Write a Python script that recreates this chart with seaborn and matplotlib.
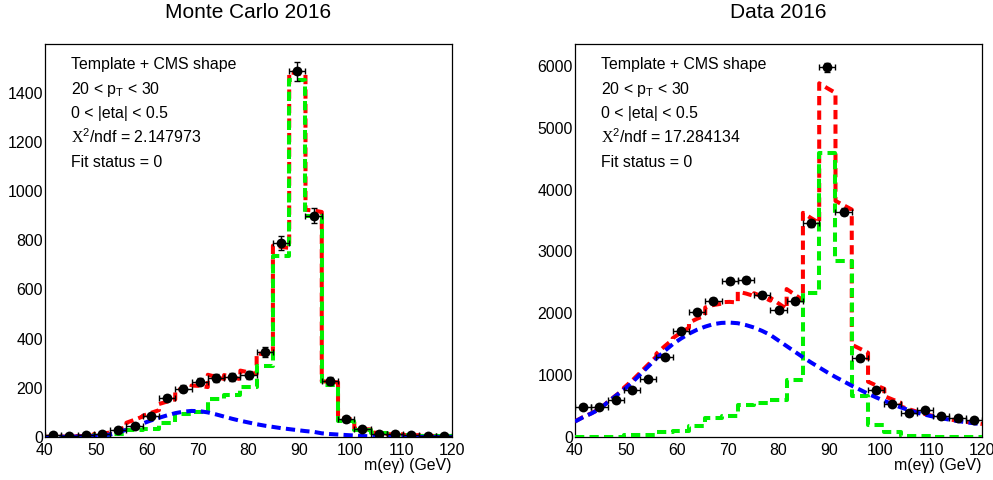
import matplotlib
matplotlib.use("Agg")
import numpy as np
import pandas as pd
import matplotlib.pyplot as plt
import seaborn as sns
from matplotlib.ticker import MultipleLocator

# ---------------- data ----------------
bin_edges = [40.0, 43.2, 46.4, 49.6, 52.8, 56.0, 59.2, 62.4, 65.6, 68.8, 72.0, 75.2, 78.4,
             81.6, 84.8, 88.0, 91.2, 94.4, 97.6, 100.8, 104.0, 107.2, 110.4, 113.6, 116.8, 120.0]
bin_centers = [41.6, 44.8, 48.0, 51.2, 54.4, 57.6, 60.8, 64.0, 67.2, 70.4, 73.6, 76.8, 80.0,
               83.2, 86.4, 89.6, 92.8, 96.0, 99.2, 102.4, 105.6, 108.8, 112.0, 115.2, 118.4]
# sampling points of the smooth background curve (bin edges and centres)
curve_x = [40.0, 41.6, 43.2, 44.8, 46.4, 48.0, 49.6, 51.2, 52.8, 54.4, 56.0, 57.6, 59.2,
           60.8, 62.4, 64.0, 65.6, 67.2, 68.8, 70.4, 72.0, 73.6, 75.2, 76.8, 78.4, 80.0,
           81.6, 83.2, 84.8, 86.4, 88.0, 89.6, 91.2, 92.8, 94.4, 96.0, 97.6, 99.2, 100.8,
           102.4, 104.0, 105.6, 107.2, 108.8, 110.4, 112.0, 113.6, 115.2, 116.8, 118.4, 120.0]

# Monte Carlo 2016
mc_points = [8, 4, 9, 13, 28, 45, 85, 158, 196, 225, 240, 245, 252,
             345, 788, 1487, 900, 228, 72, 31, 14, 12, 9, 6, 5]
mc_errors = [3, 2, 3, 4, 6, 8, 10, 13, 14, 15, 16, 16, 16,
             19, 28, 39, 30, 15, 9, 6, 4, 4, 3, 3, 3]
mc_template = [1, 1, 2, 8, 11, 28, 31, 56, 93, 103, 153, 169, 204,
               289, 737, 1451, 900, 212, 66, 28, 15, 10, 7, 4, 4]
mc_cms = [0, 0.3, 0.6, 1, 1.5, 2.5, 4, 6, 10, 18, 30, 42, 55, 67, 78, 88, 97, 103, 106,
          105, 100, 92, 83, 74, 66, 59, 52, 46, 41, 36, 32, 28, 24, 21, 15, 12, 10, 8, 6,
          4, 3, 2, 1.5, 1, 0.8, 0.5, 0.4, 0.3, 0.2, 0.2, 0.1]

# Data 2016
data_points = [478, 478, 598, 753, 939, 1290, 1710, 2015, 2205, 2516, 2535, 2292, 2050,
               2203, 3458, 5976, 3646, 1270, 758, 530, 392, 430, 340, 300, 267]
data_errors = [22, 22, 24, 27, 31, 36, 41, 45, 47, 50, 50, 48, 45,
               47, 59, 77, 60, 36, 28, 23, 20, 21, 19, 18, 16]
data_template = [3, 3, 5, 30, 32, 76, 97, 178, 310, 335, 510, 555, 600,
                 922, 2335, 4595, 2848, 663, 194, 76, 15, 10, 8, 5, 5]
data_cms = [250, 320, 380, 450, 560, 665, 765, 880, 1010, 1140, 1270, 1390, 1500, 1590,
            1670, 1735, 1785, 1825, 1845, 1850, 1840, 1810, 1770, 1715, 1650, 1560, 1470,
            1380, 1290, 1205, 1125, 1045, 970, 900, 830, 765, 700, 640, 585, 530, 480, 435,
            395, 360, 330, 305, 280, 258, 240, 222, 205]

titles = ["Monte Carlo 2016", "Data 2016"]
chi2_text = ["2.147973", "17.284134"]
y_limits = [1598, 6355]
y_major = [200, 1000]
y_minor = [40, 200]

# ---------------- style ----------------
sns.set_theme(style="white")
plt.rcParams["font.family"] = ["Liberation Sans", "DejaVu Sans"]
plt.rcParams["mathtext.fontset"] = "custom"
plt.rcParams["mathtext.rm"] = "Liberation Serif"
plt.rcParams["mathtext.default"] = "regular"
for key in ["text.color", "axes.labelcolor", "xtick.color", "ytick.color", "axes.edgecolor"]:
    plt.rcParams[key] = "black"

fig = plt.figure(figsize=(9.93, 4.80), dpi=100)
W, H = 993.0, 480.0
axes = [fig.add_axes([45 / W, 1 - 437 / H, 407 / W, 393 / H]),
        fig.add_axes([575 / W, 1 - 437 / H, 407 / W, 393 / H])]

datasets = [(mc_points, mc_errors, mc_template, mc_cms),
            (data_points, data_errors, data_template, data_cms)]

dash = (2.3, 1.3)
lw = 2.9

for k, ax in enumerate(axes):
    pts, errs, tmpl, cms = datasets[k]

    # total fit: smooth background + template, bin by bin
    tot_x, tot_y = [], []
    for i in range(len(bin_centers)):
        for j in (2 * i, 2 * i + 1, 2 * i + 2):
            tot_x.append(curve_x[j])
            tot_y.append(cms[j] + tmpl[i])
    ln = sns.lineplot(x=tot_x, y=tot_y, ax=ax, sort=False, estimator=None,
                      color="#ff0000", linewidth=lw, zorder=3).lines[-1]
    ln.set_dashes(dash)

    # template histogram
    step_y = list(tmpl) + [tmpl[-1]]
    ln = sns.lineplot(x=bin_edges, y=step_y, ax=ax, sort=False, estimator=None,
                      drawstyle="steps-post", color="#00f000", linewidth=lw, zorder=4).lines[-1]
    ln.set_dashes(dash)

    # CMS shape background
    ln = sns.lineplot(x=curve_x, y=cms, ax=ax, sort=False, estimator=None,
                      color="#0000ff", linewidth=lw, zorder=5).lines[-1]
    ln.set_dashes(dash)

    # data points
    ax.errorbar(bin_centers, pts, xerr=1.6, yerr=errs, fmt="none", ecolor="black",
                elinewidth=1.0, capsize=2.0, capthick=1.0, zorder=6)
    sns.scatterplot(x=bin_centers, y=pts, ax=ax, color="black", s=50, marker="o",
                    edgecolor="black", linewidth=0, zorder=7)

    ax.set_xlim(40, 120)
    ax.set_ylim(0, y_limits[k])
    ax.xaxis.set_major_locator(MultipleLocator(10))
    ax.xaxis.set_minor_locator(MultipleLocator(2))
    ax.yaxis.set_major_locator(MultipleLocator(y_major[k]))
    ax.yaxis.set_minor_locator(MultipleLocator(y_minor[k]))
    ax.tick_params(which="both", direction="in", top=False, right=False,
                   colors="black", width=0.8, labelsize=11.4)
    ax.tick_params(axis="y", which="major", length=9.5, pad=1.5)
    ax.tick_params(axis="y", which="minor", length=5)
    ax.tick_params(axis="x", which="major", length=8, pad=4.5)
    ax.tick_params(axis="x", which="minor", length=4.3)
    for sp in ax.spines.values():
        sp.set_color("black")
        sp.set_linewidth(0.9)
    ax.set_xlabel("")
    ax.set_ylabel("")
    ax.text(1.0, -0.0725, "m(e\u03b3) (GeV)", transform=ax.transAxes, ha="right",
            va="center", fontsize=11.4)

    tx = 0.063
    ax.text(tx, 0.936, "Template + CMS shape", transform=ax.transAxes, fontsize=11.4, va="baseline")
    ax.text(tx, 0.874, "20 < p$_{T}$ < 30", transform=ax.transAxes, fontsize=11.4, va="baseline")
    ax.text(tx, 0.812, "0 < |eta| < 0.5", transform=ax.transAxes, fontsize=11.4, va="baseline")
    ax.text(tx, 0.749, r"$\mathrm{X}^{2}$/ndf = " + chi2_text[k], transform=ax.transAxes,
            fontsize=11.4, va="baseline")
    ax.text(tx, 0.687, "Fit status = 0", transform=ax.transAxes, fontsize=11.4, va="baseline")

fig.text(248.5 / W, 1 - 12.5 / H, titles[0], ha="center", va="center", fontsize=15)
fig.text(778.5 / W, 1 - 12.5 / H, titles[1], ha="center", va="center", fontsize=15)

fig.savefig("out.png", dpi=100)
